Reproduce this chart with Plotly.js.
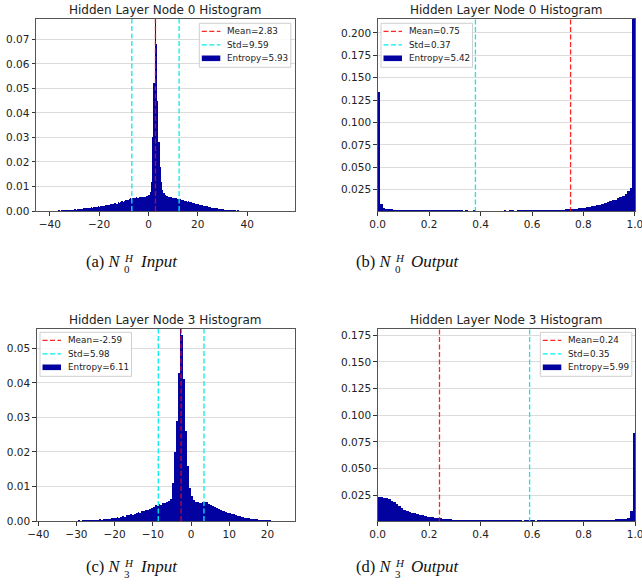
<!DOCTYPE html>
<html><head><meta charset="utf-8">
<script src="https://cdn.plot.ly/plotly-3.0.1.min.js"></script>
<style>html,body{margin:0;padding:0;background:#fff;} #chart{width:642px;height:587px;}</style>
</head><body><div id="chart"></div>
<script>
// ---------------- data ----------------
const panelTitles = ["Hidden Layer Node 0 Histogram","Hidden Layer Node 0 Histogram","Hidden Layer Node 3 Histogram","Hidden Layer Node 3 Histogram"];
const means = [2.83, 0.75, -2.59, 0.24];
const stds = [9.59, 0.37, 5.98, 0.35];
const entropies = [5.93, 5.42, 6.11, 5.99];
const binStarts = [-42, 0, -33, 0];
const binWidths = [0.5, 0.01, 0.5, 0.01];

// (a) Node 0 input, bins of 0.5 from -42 to 45
const densityA = [
0.0001,0,0.0002,0.0001,0.0001,0.0002,0,0.0001,0.0002,0.0002,0.0001,0.0003,0.0002,0.0003,
0.0003,0.0004,0.0003,0.0005,0.0004,0.0004,0.0005,0.0006,0.0005,0.0006,
0.0007,0.0006,0.0008,0.0009,0.0008,0.0010,0.0009,0.0011,0.0012,0.0011,
0.0012,0.0014,0.0013,0.0015,0.0014,0.0016,0.0017,0.0016,0.0018,0.0019,
0.0018,0.0020,0.0021,0.0022,0.0021,0.0024,0.0025,0.0023,0.0026,0.0027,
0.0029,0.0028,0.0031,0.0033,0.0030,0.0035,0.0034,0.0037,0.0039,0.0036,
0.0041,0.0043,0.0046,0.0044,0.0049,0.0052,0.0048,0.0054,0.0052,0.0055,
0.0057,0.0055,0.0058,0.0056,0.0059,0.0057,0.0058,0.0056,0.0060,0.0062,
0.0066,0.0078,0.0120,0.0300,0.0520,0.0900,0.0680,0.0450,0.0280,0.0180,0.0120,0.0085,
0.0072,0.0066,0.0063,0.0061,0.0059,0.0057,0.0058,0.0055,
0.0053,0.0051,0.0052,0.0049,0.0050,0.0047,0.0045,0.0046,0.0043,0.0041,
0.0040,0.0038,0.0039,0.0036,0.0035,0.0033,0.0034,0.0031,0.0030,0.0028,
0.0027,0.0026,0.0024,0.0025,0.0022,0.0021,0.0020,0.0019,0.0018,0.0016,
0.0015,0.0014,0.0013,0.0012,0.0011,0.0011,0.0010,0.0009,0.0008,0.0008,
0.0007,0.0006,0.0006,0.0005,0.0005,0.0004,0.0004,0.0003,0.0004,0.0003,
0.0003,0.0002,0.0003,0.0002,0.0002,0.0002,0.0001,0.0002,0.0001,0.0001,
0.0001,0.0001,0,0.0001,0.0001,0,0.0001,0,0.0001,0
];
// (b) Node 0 output, bins of 0.01 from 0 to 1
const densityB = [
0.134,0.0085,0.0048,0.0036,0.0031,0.0029,0.0027,0.0026,0.0026,0.0025,
0.0024,0.0024,0.0023,0.0023,0.0022,0.0023,0.0022,0.0021,0.0022,0.0021,
0.0021,0.0020,0.0021,0.0020,0.0020,0.0019,0.0020,0.0019,0.0019,0.0018,
0.0019,0.0018,0.0018,0.0017,0.0018,0.0017,0.0017,0.0018,0.0017,0.0017,
0.0017,0.0016,0.0017,0.0017,0.0016,0.0017,0.0016,0.0017,0.0017,0.0018,
0.0017,0.0018,0.0018,0.0017,0.0018,0.0019,0.0018,0.0019,0.0019,0.0020,
0.0020,0.0020,0.0021,0.0021,0.0022,0.0022,0.0023,0.0024,0.0024,0.0025,
0.0026,0.0027,0.0028,0.0030,0.0032,0.0034,0.0036,0.0039,0.0043,0.0046,
0.0050,0.0054,0.0058,0.0063,0.0068,0.0074,0.0080,0.0088,0.0097,0.0108,
0.0120,0.0130,0.0140,0.0155,0.0170,0.0185,0.0205,0.0240,0.0270,0.30
];
// (c) Node 3 input, bins of 0.5 from -33 to 23
const densityC = [
0.0001,0,0.0001,0.0001,0,0.0001,
0.0001,0.0002,0.0001,0.0002,0.0002,0.0003,0.0002,0.0003,0.0003,0.0004,
0.0003,0.0004,0.0005,0.0004,0.0006,0.0005,0.0007,0.0006,0.0008,0.0009,
0.0010,0.0011,0.0010,0.0013,0.0014,0.0013,0.0016,0.0017,0.0019,0.0018,
0.0021,0.0023,0.0025,0.0024,0.0028,0.0030,0.0033,0.0031,0.0036,0.0039,
0.0042,0.0045,0.0043,0.0048,0.0046,0.0051,0.0053,0.0056,0.0059,0.0065,
0.0110,0.0200,0.0290,0.0430,0.0620,0.0540,0.0410,0.0260,0.0160,0.0095,
0.0072,0.0060,0.0056,0.0054,0.0053,0.0052,0.0054,0.0056,0.0055,0.0050,
0.0046,0.0043,0.0040,0.0038,0.0035,0.0032,0.0030,0.0028,0.0026,0.0023,
0.0022,0.0020,0.0019,0.0017,0.0015,0.0014,0.0013,0.0011,0.0010,0.0009,
0.0008,0.0007,0.0006,0.0006,0.0005,0.0004,0.0004,0.0003,0.0003,0.0002,
0.0002,0.0002,0.0001,0.0001,0.0001,0
];
// (d) Node 3 output, bins of 0.01 from 0 to 1
const densityD = [
0.0230,0.0232,0.0228,0.0225,0.0215,0.0200,0.0185,0.0165,0.0145,0.0130,
0.0115,0.0105,0.0095,0.0088,0.0081,0.0074,0.0068,0.0062,0.0056,0.0051,
0.0047,0.0043,0.0039,0.0036,0.0033,0.0031,0.0028,0.0026,0.0024,0.0022,
0.0021,0.0020,0.0019,0.0019,0.0018,0.0018,0.0017,0.0017,0.0017,0.0016,
0.0016,0.0016,0.0015,0.0016,0.0015,0.0015,0.0015,0.0014,0.0015,0.0014,
0.0014,0.0014,0.0015,0.0014,0.0014,0.0014,0.0013,0.0014,0.0014,0.0014,
0.0014,0.0013,0.0014,0.0014,0.0014,0.0015,0.0014,0.0014,0.0015,0.0015,
0.0015,0.0015,0.0016,0.0015,0.0016,0.0016,0.0016,0.0017,0.0017,0.0017,
0.0018,0.0018,0.0018,0.0019,0.0019,0.0020,0.0020,0.0021,0.0021,0.0022,
0.0023,0.0023,0.0024,0.0025,0.0026,0.0027,0.0030,0.0040,0.0100,0.0838
];
const densities = [densityA, densityB, densityC, densityD];
const captionLetters = ["(a)","(b)","(c)","(d)"];
const captionSubs = ["0","0","3","3"];
const captionWords = ["Input","Output","Input","Output"];

// ---------------- layout ----------------
const W = 642, H = 587;
const boxes = [[36,295,19,211],[377.7,635,19,211],[36.7,294.7,328.7,521],[377.7,635.3,328.7,521]];
const xRanges = [[-45.6,59.4],[0,1.0005],[-40.4,27.15],[0,1.0005]];
const yRanges = [[0,0.0783],[0.0012,0.2156],[0,0.0557],[0.0009,0.1812]];
const xDticks = [20,0.2,10,0.2], xFormats = ['d','.1f','d','.1f'];
const yDticks = [0.01,0.025,0.01,0.025], yFormats = ['.2f','.3f','.2f','.3f'];
const legendBoxes = [[199.3,23.3],[381,23.3],[40,332.3],[540.3,332.3]]; // left, top (px)
const titleY = [10,10,319.5,319.5];
const barColor = '#0202a0';
const redCol = 'rgba(255,0,0,0.85)', cyanCol = '#00f0f0', dashPat = '5px,2.5px';
const FONT = 'DejaVu Sans, sans-serif';
const px = v => v/W, py = v => 1 - v/H;

const traces = [];
const layout = {
  width: W, height: H, margin:{l:0,r:0,t:0,b:0},
  paper_bgcolor:'#fff', plot_bgcolor:'#fff',
  showlegend:false, bargap:0, font:{family:FONT, color:'#222'},
  annotations:[], shapes:[]
};

for (let i=0;i<4;i++){
  const s = i===0 ? '' : String(i+1);
  const xa = 'x'+s, ya = 'y'+s;
  const [l,r,t,b] = boxes[i];
  layout['xaxis'+s] = {
    domain:[px(l), px(r)], anchor: ya, range:xRanges[i], dtick:xDticks[i], tick0:0, tickformat:xFormats[i],
    showgrid:false, zeroline:false, showline:true, mirror:true, linecolor:'#555', linewidth:1,
    ticks:'outside', ticklen:3.5, tickcolor:'#333', tickfont:{size:10.5, family:FONT, color:'#222'},
    ticklabeloverflow:'allow'
  };
  layout['yaxis'+s] = {
    domain:[py(b), py(t)], anchor: xa, range:yRanges[i], dtick:yDticks[i], tick0:0, tickformat:yFormats[i],
    showgrid:true, gridcolor:'#dcdcdc', gridwidth:1, zeroline:false, showline:true, mirror:true,
    linecolor:'#555', linewidth:1, ticks:'outside', ticklen:3.5, tickcolor:'#333',
    tickfont:{size:10.5, family:FONT, color:'#222'}
  };

  const m = means[i], sd = stds[i];
  const d = densities[i];
  traces.push({type:'bar', x:d.map((_,k)=>binStarts[i]+binWidths[i]*(k+0.5)), y:d, width:binWidths[i],
    xaxis:xa, yaxis:ya, name:'Entropy='+entropies[i].toFixed(2),
    marker:{color:barColor, line:{width:0}}, hoverinfo:'skip'});
  traces.push({type:'scatter', mode:'lines', x:[m,m], y:[0,1], xaxis:xa, yaxis:ya,
    name:'Mean='+m.toFixed(2), line:{color:redCol, width:1.3, dash:dashPat}, hoverinfo:'skip'});
  traces.push({type:'scatter', mode:'lines', x:[m-sd,m-sd,null,m+sd,m+sd], y:[0,1,null,0,1], xaxis:xa, yaxis:ya,
    name:'Std='+sd.toFixed(2), line:{color:cyanCol, width:1.3, dash:dashPat}, hoverinfo:'skip'});

  layout.annotations.push({xref:'paper', yref:'paper', x:px((l+r)/2), y:py(titleY[i]), xanchor:'center', yanchor:'middle',
    text:panelTitles[i], showarrow:false, font:{size:12, family:FONT, color:'#222'}});

  // legend box (drawn like matplotlib's legend)
  const [bx, by] = legendBoxes[i];
  layout.shapes.push({type:'rect', xref:'paper', yref:'paper', x0:px(bx), x1:px(bx+91.5), y0:py(by), y1:py(by+44),
    line:{color:'#cfcfcf', width:1}, fillcolor:'rgba(255,255,255,0.85)', layer:'above'});
  const rows = [by+8, by+21.5, by+35];
  layout.shapes.push({type:'line', xref:'paper', yref:'paper', x0:px(bx+2.5), x1:px(bx+21), y0:py(rows[0]), y1:py(rows[0]),
    line:{color:redCol, width:1.3, dash:dashPat}, layer:'above'});
  layout.shapes.push({type:'line', xref:'paper', yref:'paper', x0:px(bx+2.5), x1:px(bx+21), y0:py(rows[1]), y1:py(rows[1]),
    line:{color:cyanCol, width:1.3, dash:dashPat}, layer:'above'});
  layout.shapes.push({type:'rect', xref:'paper', yref:'paper', x0:px(bx+2.5), x1:px(bx+21), y0:py(rows[2]-2.8), y1:py(rows[2]+2.8),
    line:{width:0}, fillcolor:barColor, layer:'above'});
  const labels = ['Mean='+m.toFixed(2), 'Std='+sd.toFixed(2), 'Entropy='+entropies[i].toFixed(2)];
  labels.forEach((txt,k)=>{
    layout.annotations.push({xref:'paper', yref:'paper', x:px(bx+25.5), y:py(rows[k]), xanchor:'left', yanchor:'middle',
      text:txt, showarrow:false, font:{size:8.8, family:FONT, color:'#222'}});
  });
}

// captions (a)-(d)
const capN = [[122,261],[393,261],[122,566],[393,566]]; // right edge of "N", text center y
const serif = 'Liberation Serif, Times New Roman, serif';
for (let i=0;i<4;i++){
  const [nx, cy] = capN[i];
  layout.annotations.push({xref:'paper', yref:'paper', x:px(nx), y:py(cy), xanchor:'right', yanchor:'middle',
    text: captionLetters[i]+' <i>N</i>', showarrow:false, font:{size:16.5, family:serif, color:'#111'}});
  layout.annotations.push({xref:'paper', yref:'paper', x:px(nx), y:py(cy-3), xanchor:'left', yanchor:'middle',
    text:'<i>H</i>', showarrow:false, font:{size:11, family:serif, color:'#111'}});
  layout.annotations.push({xref:'paper', yref:'paper', x:px(nx), y:py(cy+7.5), xanchor:'left', yanchor:'middle',
    text:captionSubs[i], showarrow:false, font:{size:11, family:serif, color:'#111'}});
  layout.annotations.push({xref:'paper', yref:'paper', x:px(nx+16), y:py(cy), xanchor:'left', yanchor:'middle',
    text:'<i>'+captionWords[i]+'</i>', showarrow:false, font:{size:17, family:serif, color:'#111'}});
}

Plotly.newPlot('chart', traces, layout, {displayModeBar:false, staticPlot:true});
</script></body></html>
